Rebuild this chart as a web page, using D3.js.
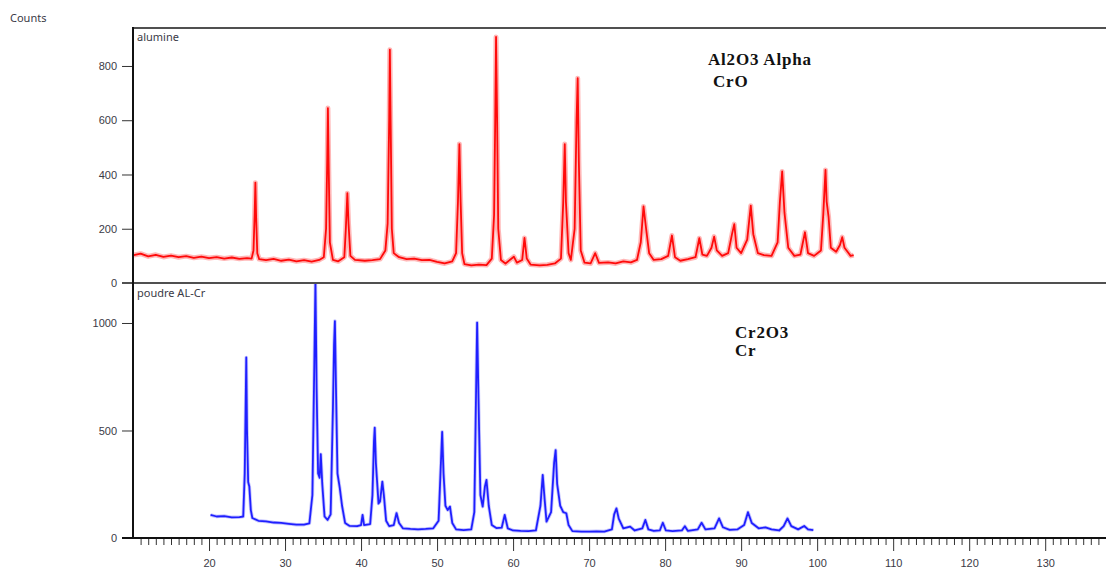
<!DOCTYPE html>
<html>
<head>
<meta charset="utf-8">
<script src="https://cdn.jsdelivr.net/npm/d3@7"></script>
<style>
  body { margin: 0; background: #fff; }
  svg { display: block; font-family: "Noto Sans", "Open Sans", sans-serif; }
  .axis text { fill: #3a3a46; font-size: 11px; }
  .axis line { stroke: #333; }
  .axis path { display: none; }
  .note { font-family: "Liberation Serif", "Times New Roman", serif; font-weight: bold; font-size: 17px; letter-spacing: 0.8px; fill: #111; }
</style>
</head>
<body>
<div class="container"></div>
<script>
// 2theta ticks
var xMajor = [20, 30, 40, 50, 60, 70, 80, 90, 100, 110, 120, 130];
var yTopTicks = [0, 200, 400, 600, 800];
var yBotTicks = [0, 500, 1000];

// panel names and phase notes
var panelNames = ["alumine", "poudre AL-Cr"];
var topNotes = ["Al2O3 Alpha", "CrO"];
var botNotes = ["Cr2O3", "Cr"];

// [2theta, counts]
var alumine = [
  [10.1,103],[11,108],[12,98],[13,104],[14,96],[15,101],[16,95],[17,99],[18,93],[19,97],[20,92],
  [21,95],[22,90],[23,94],[24,89],[25,92],[25.6,90],[25.85,120],[26.0,250],[26.1,370],[26.2,240],
  [26.35,110],[26.6,88],[27.5,84],[28.5,89],[29.5,82],[30.5,86],[31.5,80],[32.5,84],[33.5,79],
  [34.5,85],[35.1,95],[35.4,200],[35.55,450],[35.64,645],[35.75,420],[35.9,150],[36.3,85],[37,80],
  [37.8,95],[38.0,200],[38.2,331],[38.35,220],[38.6,100],[39.2,85],[40.5,82],[41.5,84],[42.5,88],
  [43.2,120],[43.5,220],[43.7,600],[43.79,860],[43.9,580],[44.05,200],[44.3,110],[45,95],[46,88],
  [47,90],[48,84],[49,85],[50,78],[51,72],[52,80],[52.5,110],[52.75,300],[52.94,512],[53.1,300],
  [53.3,110],[53.6,70],[54.5,65],[55.5,68],[56.5,66],[57.2,90],[57.5,250],[57.65,600],[57.76,907],
  [57.9,600],[58.05,200],[58.4,85],[59,72],[60.1,97],[60.5,75],[61.2,85],[61.5,166],[61.8,90],
  [62.3,68],[63.5,65],[64.5,67],[65.5,72],[66.3,90],[66.6,300],[66.8,512],[66.95,300],[67.3,110],
  [67.6,85],[68.1,200],[68.35,600],[68.5,755],[68.65,450],[68.9,120],[69.4,75],[70.2,72],[70.8,110],
  [71.3,74],[72.5,76],[73.5,72],[74.5,80],[75.5,76],[76.3,85],[76.8,150],[77.16,282],[77.5,200],
  [77.9,110],[78.5,85],[79.5,88],[80.4,100],[80.9,175],[81.3,95],[82,82],[83,88],[84,95],[84.5,165],
  [84.9,105],[85.5,100],[86.1,130],[86.45,171],[86.8,120],[87.5,100],[88.3,110],[88.8,180],[89.1,217],
  [89.4,130],[90,110],[90.8,160],[91.27,285],[91.6,180],[92.2,110],[93,103],[94,100],[94.8,150],
  [95.1,300],[95.4,411],[95.7,260],[96.2,130],[97,100],[97.8,105],[98.4,187],[98.8,110],[99.6,100],
  [100.5,120],[100.8,250],[101.1,417],[101.25,300],[101.5,245],[101.8,130],[102.5,115],[103,140],
  [103.3,169],[103.6,130],[104,115],[104.4,100],[104.8,103]
];

var poudre = [
  [20.2,107],[21,100],[22,102],[23,96],[24,97],[24.5,100],[24.7,300],[24.85,700],[24.9,840],[25.0,500],
  [25.15,260],[25.3,240],[25.5,130],[25.7,93],[26.5,80],[27.5,77],[28.5,72],[29.5,70],[30.5,66],
  [31.5,62],[32.5,62],[33.2,68],[33.6,200],[33.85,800],[34.0,1192],[34.15,700],[34.35,300],[34.55,280],
  [34.7,390],[34.9,250],[35.2,100],[35.6,84],[36.0,110],[36.3,600],[36.45,900],[36.56,1009],[36.7,700],
  [36.9,300],[37.2,233],[37.5,150],[37.9,70],[38.5,56],[39.5,55],[40.0,60],[40.2,107],[40.4,60],
  [41.2,65],[41.5,200],[41.7,450],[41.8,513],[41.95,350],[42.3,160],[42.5,170],[42.8,262],[43.0,200],
  [43.3,80],[43.7,55],[44.3,60],[44.67,116],[45.0,70],[45.5,45],[46.5,42],[47.5,40],[48.5,42],
  [49.5,45],[50.2,80],[50.45,300],[50.67,494],[50.85,300],[51.1,150],[51.4,130],[51.7,146],[52.0,70],
  [52.5,40],[53.5,37],[54.5,40],[54.9,120],[55.1,600],[55.27,1002],[55.45,650],[55.7,200],[56.0,146],
  [56.3,240],[56.5,270],[56.8,150],[57.2,60],[57.8,46],[58.5,48],[58.9,107],[59.3,45],[60,35],
  [61,33],[62,32],[63,35],[63.6,150],[63.9,293],[64.15,180],[64.4,76],[65.0,120],[65.4,350],
  [65.6,409],[65.8,250],[66.2,150],[66.6,120],[67.0,115],[67.3,60],[67.8,32],[69,30],[70,30],
  [71,31],[72,30],[73,40],[73.3,110],[73.6,138],[73.9,90],[74.5,45],[75.4,53],[76,35],[77.0,45],
  [77.4,84],[77.8,40],[78.5,33],[79.3,35],[79.7,71],[80.1,35],[81,32],[82.2,35],[82.6,55],[83.0,33],
  [84.3,40],[84.8,71],[85.3,40],[86.5,45],[87.1,91],[87.6,50],[88.5,38],[89.5,40],[90.4,60],
  [90.9,120],[91.4,70],[92.3,45],[93.2,49],[94,40],[95,35],[95.6,55],[96.1,91],[96.6,55],[97.5,40],
  [98.3,56],[98.8,40],[99.5,37]
];

var W = 1106, H = 569;
var plotLeft = 133, plotRight = 1106, plotTop = 28, plotMid = 283, plotBottom = 538;

var svg = d3.select(".container").append("svg")
    .attr("width", W).attr("height", H);

var x = d3.scaleLinear().domain([10, 138]).range([plotLeft, plotRight]);
var yTop = d3.scaleLinear().domain([0, 940]).range([plotMid, plotTop]);
var yBot = d3.scaleLinear().domain([0, 1186]).range([plotBottom, plotMid]);

svg.append("text").attr("x", 10).attr("y", 22)
    .style("font-size", "11px").style("fill", "#3a3a46").text("Counts");

// clip regions for each panel
var defs = svg.append("defs");
defs.append("clipPath").attr("id", "clipTop").append("rect")
    .attr("x", plotLeft).attr("y", plotTop).attr("width", plotRight - plotLeft).attr("height", plotMid - plotTop);
defs.append("clipPath").attr("id", "clipBot").append("rect")
    .attr("x", plotLeft).attr("y", plotMid).attr("width", plotRight - plotLeft).attr("height", plotBottom - plotMid);

var lineTop = d3.line().x(function(d) { return x(d[0]); }).y(function(d) { return yTop(d[1]); });
var lineBot = d3.line().x(function(d) { return x(d[0]); }).y(function(d) { return yBot(d[1]); });

// soft halo under each trace, like the scan noise band
svg.append("path").datum(alumine)
    .attr("clip-path", "url(#clipTop)")
    .attr("d", lineTop)
    .attr("fill", "none").attr("stroke", "#ff3030").attr("stroke-opacity", 0.35)
    .attr("stroke-width", 5).attr("stroke-linejoin", "round");
svg.append("path").datum(alumine)
    .attr("clip-path", "url(#clipTop)")
    .attr("d", lineTop)
    .attr("fill", "none").attr("stroke", "#ff0a0a")
    .attr("stroke-width", 1.8).attr("stroke-linejoin", "round");

svg.append("path").datum(poudre)
    .attr("clip-path", "url(#clipBot)")
    .attr("d", lineBot)
    .attr("fill", "none").attr("stroke", "#4040ff").attr("stroke-opacity", 0.3)
    .attr("stroke-width", 3.5).attr("stroke-linejoin", "round");
svg.append("path").datum(poudre)
    .attr("clip-path", "url(#clipBot)")
    .attr("d", lineBot)
    .attr("fill", "none").attr("stroke", "#1f1fff")
    .attr("stroke-width", 1.8).attr("stroke-linejoin", "round");

// y axes
svg.append("g").attr("class", "axis")
    .attr("transform", "translate(" + plotLeft + ",0)")
    .call(d3.axisLeft(yTop).tickValues(yTopTicks).tickSize(11).tickPadding(5).tickFormat(d3.format("d")));

svg.append("g").attr("class", "axis")
    .attr("transform", "translate(" + plotLeft + ",0)")
    .call(d3.axisLeft(yBot).tickValues(yBotTicks).tickSize(11).tickPadding(5).tickFormat(d3.format("d")));

// x axis: minor ticks every degree, labelled every ten
var xMinor = d3.range(11, 139).filter(function(v) { return v % 10 !== 0; });
svg.append("g").attr("class", "axis")
    .attr("transform", "translate(0," + plotBottom + ")")
    .call(d3.axisBottom(x).tickValues(xMinor).tickSize(7).tickFormat(""));
svg.append("g").attr("class", "axis")
    .attr("transform", "translate(0," + plotBottom + ")")
    .call(d3.axisBottom(x).tickValues(xMajor).tickSize(13).tickPadding(8).tickFormat(d3.format("d")));

// frame lines
svg.append("line").attr("x1", plotLeft).attr("x2", plotRight).attr("y1", plotTop).attr("y2", plotTop)
    .attr("stroke", "#505050").attr("stroke-width", 2);
svg.append("line").attr("x1", plotLeft - 11).attr("x2", plotRight).attr("y1", plotMid).attr("y2", plotMid)
    .attr("stroke", "#505050").attr("stroke-width", 1.8);
svg.append("line").attr("x1", plotLeft).attr("x2", plotLeft).attr("y1", plotTop - 1).attr("y2", plotBottom + 1)
    .attr("stroke", "#111").attr("stroke-width", 2);
svg.append("line").attr("x1", plotLeft - 11).attr("x2", plotRight).attr("y1", plotBottom).attr("y2", plotBottom)
    .attr("stroke", "#111").attr("stroke-width", 2);

// panel labels
svg.append("text").attr("x", plotLeft + 4).attr("y", plotTop + 13)
    .style("font-size", "11px").style("fill", "#3a3a46").text(panelNames[0]);
svg.append("text").attr("x", plotLeft + 4).attr("y", plotMid + 14)
    .style("font-size", "11px").style("fill", "#3a3a46").text(panelNames[1]);

// phase notes
svg.append("text").attr("class", "note").attr("x", 708).attr("y", 65).text(topNotes[0]);
svg.append("text").attr("class", "note").attr("x", 713).attr("y", 87).text(topNotes[1]);
svg.append("text").attr("class", "note").attr("x", 735).attr("y", 338).text(botNotes[0]);
svg.append("text").attr("class", "note").attr("x", 735).attr("y", 356).text(botNotes[1]);
</script>
</body>
</html>
